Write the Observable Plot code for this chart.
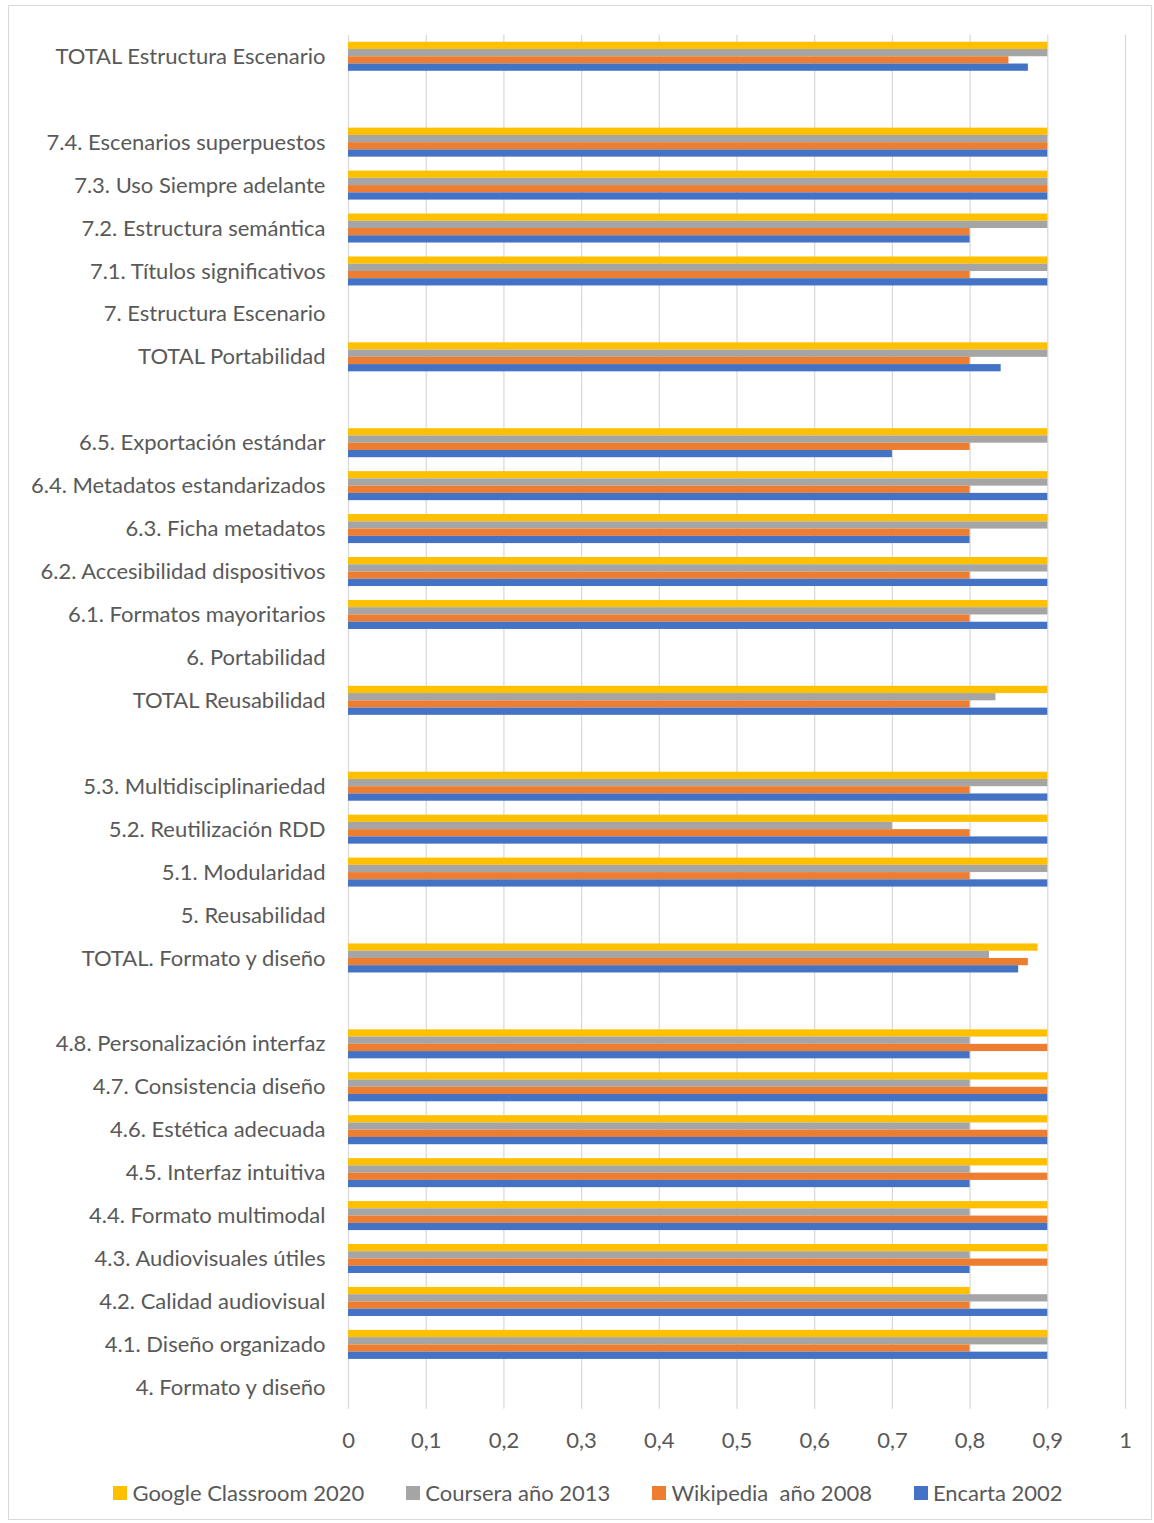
<!DOCTYPE html>
<html>
<head>
<meta charset="utf-8">
<script src="https://cdn.jsdelivr.net/npm/d3@7"></script>
<script src="https://cdn.jsdelivr.net/npm/@observablehq/plot@0.6"></script>
<style>
  html, body { margin: 0; padding: 0; background: #fff; }
  #wrap { position: relative; width: 1154px; height: 1523px; overflow: hidden; }
  #frame { position: absolute; left: 8px; top: 5px; width: 1144px; height: 1515px; box-sizing: border-box; border: 1.5px solid #d9d9d9; }
  #chart { position: absolute; left: 0; top: 0; }
  #legend { position: absolute; left: 16px; top: 1479px; width: 1144px; display: flex; justify-content: center; gap: 42px;
            font-family: Lato, "Open Sans", sans-serif; font-size: 22px; color: #595959; }
  .item { display: flex; align-items: center; gap: 5px; white-space: pre; }
  .sw { width: 14px; height: 14px; display: inline-block; }
</style>
</head>
<body>
<div id="wrap">
  <div id="frame"></div>
  <div id="chart"></div>
  <div id="legend"></div>
</div>
<script>
// Categories, top to bottom ("" = empty spacer row)
const categories = [
  "TOTAL Estructura Escenario",
  "",
  "7.4. Escenarios superpuestos",
  "7.3. Uso Siempre adelante",
  "7.2. Estructura semántica",
  "7.1. Títulos significativos",
  "7. Estructura Escenario",
  "TOTAL Portabilidad",
  "",
  "6.5. Exportación estándar",
  "6.4. Metadatos estandarizados",
  "6.3. Ficha metadatos",
  "6.2. Accesibilidad dispositivos",
  "6.1. Formatos mayoritarios",
  "6. Portabilidad",
  "TOTAL Reusabilidad",
  "",
  "5.3. Multidisciplinariedad",
  "5.2. Reutilización RDD",
  "5.1. Modularidad",
  "5. Reusabilidad",
  "TOTAL. Formato y diseño",
  "",
  "4.8. Personalización interfaz",
  "4.7. Consistencia diseño",
  "4.6. Estética adecuada",
  "4.5. Interfaz intuitiva",
  "4.4. Formato multimodal",
  "4.3. Audiovisuales útiles",
  "4.2. Calidad audiovisual",
  "4.1. Diseño organizado",
  "4. Formato y diseño"
];

const seriesNames = ["Google Classroom 2020", "Coursera año 2013", "Wikipedia  año 2008", "Encarta 2002"];
const seriesColors = ["#FFC000", "#A5A5A5", "#ED7D31", "#4472C4"];

const googleClassroom = [0.9, null, 0.9, 0.9, 0.9, 0.9, null, 0.9, null, 0.9, 0.9, 0.9, 0.9, 0.9, null, 0.9, null, 0.9, 0.9, 0.9, null, 0.8875, null, 0.9, 0.9, 0.9, 0.9, 0.9, 0.9, 0.8, 0.9, null];
const coursera        = [0.9, null, 0.9, 0.9, 0.9, 0.9, null, 0.9, null, 0.9, 0.9, 0.9, 0.9, 0.9, null, 0.8333, null, 0.9, 0.7, 0.9, null, 0.825, null, 0.8, 0.8, 0.8, 0.8, 0.8, 0.8, 0.9, 0.9, null];
const wikipedia       = [0.85, null, 0.9, 0.9, 0.8, 0.8, null, 0.8, null, 0.8, 0.8, 0.8, 0.8, 0.8, null, 0.8, null, 0.8, 0.8, 0.8, null, 0.875, null, 0.9, 0.9, 0.9, 0.9, 0.9, 0.9, 0.8, 0.8, null];
const encarta         = [0.875, null, 0.9, 0.9, 0.8, 0.9, null, 0.84, null, 0.7, 0.9, 0.8, 0.9, 0.9, null, 0.9, null, 0.9, 0.9, 0.9, null, 0.8625, null, 0.8, 0.9, 0.9, 0.8, 0.9, 0.8, 0.9, 0.9, null];

const xTicks = [0, 0.1, 0.2, 0.3, 0.4, 0.5, 0.6, 0.7, 0.8, 0.9, 1];
const xTickLabels = ["0", "0,1", "0,2", "0,3", "0,4", "0,5", "0,6", "0,7", "0,8", "0,9", "1"];

const seriesValues = [googleClassroom, coursera, wikipedia, encarta];
const rows = d3.range(categories.length);
const data = [];
seriesNames.forEach((s, k) => {
  seriesValues[k].forEach((v, i) => data.push({row: i, series: s, value: v}));
});

const font = 'Lato, "Open Sans", sans-serif';

const chart = Plot.plot({
  width: 1154,
  height: 1470,
  marginLeft: 348,
  marginRight: 29,
  marginTop: 34.8,
  marginBottom: 61.2,
  style: {fontFamily: font, fontSize: "22px", color: "#595959", background: "transparent", overflow: "visible"},
  x: {domain: [0, 1]},
  fy: {domain: rows, padding: 0, round: false},
  y: {domain: seriesNames, paddingInner: 0, paddingOuter: 0.96, round: false},
  color: {domain: seriesNames, range: seriesColors},
  marks: [
    Plot.gridX(xTicks, {stroke: "#d9d9d9", strokeOpacity: 1, strokeWidth: 1.25}),
    Plot.barX(data, {fy: "row", y: "series", x: "value", fill: "series"}),
    Plot.axisX({ticks: xTicks, tickFormat: (d) => xTickLabels[xTicks.indexOf(d)], tickSize: 0, tickPadding: 23, label: null, fill: "#595959", fontSize: 22}),
    Plot.axisY({ticks: [], label: null, tickSize: 0}),
    Plot.axisFy({anchor: "left", tickFormat: (i) => categories[i], tickSize: 0, tickPadding: 23, label: null, fill: "#595959", fontSize: 22})
  ]
});
document.getElementById("chart").appendChild(chart);

const legend = document.getElementById("legend");
seriesNames.forEach((s, k) => {
  const item = document.createElement("div");
  item.className = "item";
  const sw = document.createElement("span");
  sw.className = "sw";
  sw.style.background = seriesColors[k];
  const t = document.createElement("span");
  t.textContent = s;
  item.appendChild(sw);
  item.appendChild(t);
  legend.appendChild(item);
});
</script>
</body>
</html>
